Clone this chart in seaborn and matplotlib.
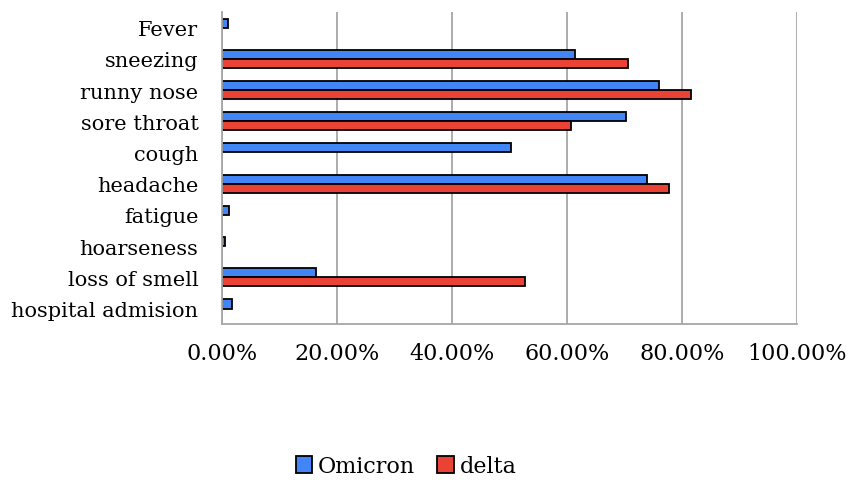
import matplotlib
matplotlib.use("Agg")
import matplotlib.pyplot as plt
import seaborn as sns
import numpy as np
import pandas as pd
from matplotlib.ticker import PercentFormatter

# --------------------------
# Data (percent of patients)
# --------------------------
symptoms = ["Fever", "sneezing", "runny nose", "sore throat", "cough",
            "headache", "fatigue", "hoarseness", "loss of smell", "hospital admision"]
omicron = [1.1, 61.4, 76.0, 70.2, 50.2, 73.9, 1.3, 0.6, 16.3, 1.8]
# no delta bar drawn for these symptoms
delta = [np.nan, 70.7, 81.6, 60.8, np.nan, 77.8, np.nan, np.nan, 52.7, np.nan]
x_ticks = [0, 20, 40, 60, 80, 100]

df = pd.DataFrame({
    "symptom": symptoms * 2,
    "value": omicron + delta,
    "variant": ["Omicron"] * len(symptoms) + ["delta"] * len(symptoms),
})

# --------------------------
# Plot
# --------------------------
sns.set_style("white")
plt.rcParams["font.family"] = ["DejaVu Serif"]
plt.rcParams["text.color"] = "black"
plt.rcParams["xtick.color"] = "black"
plt.rcParams["ytick.color"] = "black"

fig = plt.figure(figsize=(8.49, 4.81), dpi=100)
ax = fig.add_axes([0.2615, 0.324, 0.677, 0.649])

sns.barplot(data=df, y="symptom", x="value", hue="variant", order=symptoms,
            hue_order=["Omicron", "delta"],
            palette={"Omicron": "#4285F4", "delta": "#EA4335"},
            orient="h", width=0.58, edgecolor="black", linewidth=1.3,
            saturation=1, errorbar=None, ax=ax)

ax.set_xlim(0, 100)
ax.set_xticks(x_ticks)
ax.xaxis.set_major_formatter(PercentFormatter(decimals=2))
ax.grid(axis="x", color="#A6A6A6", linewidth=1.3)
ax.set_axisbelow(True)
ax.set_xlabel("")
ax.set_ylabel("")
for side in ["top", "right"]:
    ax.spines[side].set_visible(False)
for side in ["left", "bottom"]:
    ax.spines[side].set_color("#A6A6A6")
    ax.spines[side].set_linewidth(1.3)
ax.tick_params(axis="y", length=0, pad=17, labelsize=15)
ax.tick_params(axis="x", length=0, pad=13, labelsize=16)

ax.legend(loc="center", bbox_to_anchor=(0.32, -0.455), ncol=2,
          frameon=False, fontsize=16, handlelength=0.75, handleheight=0.75,
          handletextpad=0.25, columnspacing=1.0)

fig.savefig("out.png", dpi=100)
